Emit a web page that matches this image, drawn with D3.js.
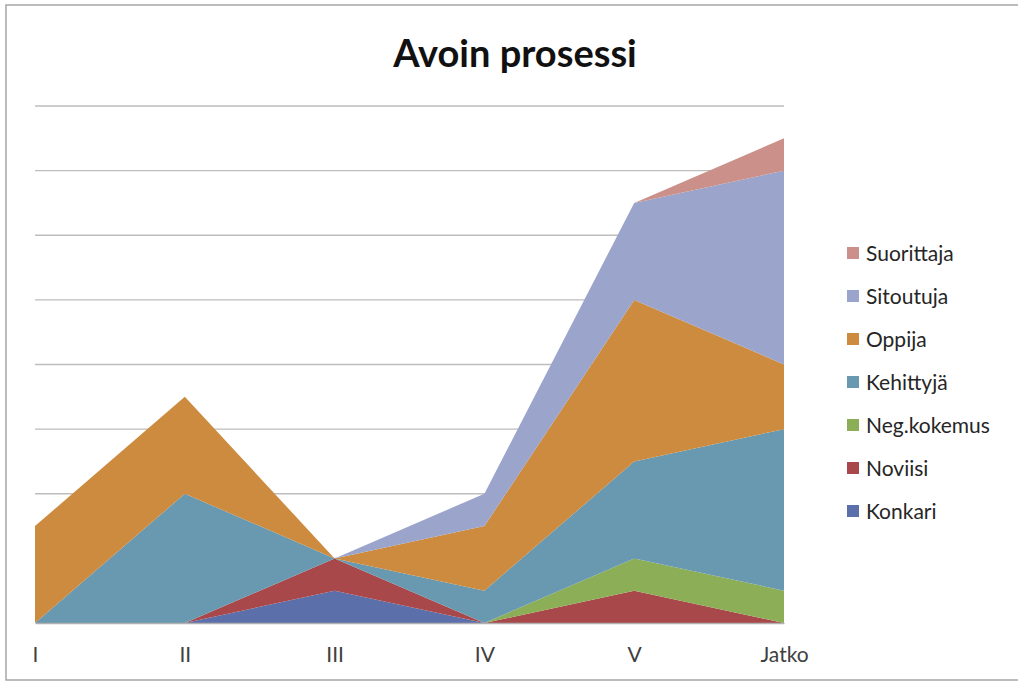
<!DOCTYPE html>
<html>
<head>
<meta charset="utf-8">
<script src="https://cdn.jsdelivr.net/npm/d3@7"></script>
<style>
  html, body { margin: 0; padding: 0; background: #fff; }
  svg { display: block; }
</style>
</head>
<body>
<svg id="chart" width="1018" height="681"></svg>
<script>
// Categories along the x axis
const categories = ["I", "II", "III", "IV", "V", "Jatko"];

// Series values, bottom of the stack first
const konkari     = [0,   0,   0.5, 0,   0,   0];
const noviisi     = [0,   0,   0.5, 0,   0.5, 0];
const negKokemus  = [0,   0,   0,   0,   0.5, 0.5];
const kehittyja   = [0,   2,   0,   0.5, 1.5, 2.5];
const oppija      = [1.5, 1.5, 0,   1,   2.5, 1];
const sitoutuja   = [0,   0,   0,   0.5, 1.5, 3];
const suorittaja  = [0,   0,   0,   0,   0,   0.5];

const seriesNames = ["Konkari", "Noviisi", "Neg.kokemus", "Kehittyjä", "Oppija", "Sitoutuja", "Suorittaja"];
const seriesValues = [konkari, noviisi, negKokemus, kehittyja, oppija, sitoutuja, suorittaja];
const seriesColors = ["#5b6fab", "#a8484a", "#8cae56", "#6899b0", "#cd8b3f", "#9ba4cb", "#cb9089"];

const gridTicks = [0, 1, 2, 3, 4, 5, 6, 7, 8];

const FONT = "Lato, 'Open Sans', sans-serif";

// Table for d3.stack
const table = categories.map((c, i) => {
  const row = { cat: c };
  seriesNames.forEach((n, k) => { row[n] = seriesValues[k][i]; });
  return row;
});

const svg = d3.select("#chart");

// Outer chart frame
svg.append("rect")
  .attr("x", 6).attr("y", 5)
  .attr("width", 1030).attr("height", 675)
  .attr("fill", "#fff")
  .attr("stroke", "#a6a6a6")
  .attr("stroke-width", 1.5);

const x = d3.scalePoint().domain(categories).range([35, 784]).padding(0);
const y = d3.scaleLinear().domain([0, 8]).range([623, 106]);

// Horizontal gridlines
svg.append("g")
  .selectAll("line")
  .data(gridTicks.filter(t => t > 0))
  .join("line")
  .attr("x1", x.range()[0]).attr("x2", x.range()[1])
  .attr("y1", d => y(d)).attr("y2", d => y(d))
  .attr("stroke", "#bdbdbd")
  .attr("stroke-width", 1.3);

// Stacked areas
const stack = d3.stack().keys(seriesNames);
const layers = stack(table);

const area = d3.area()
  .x(d => x(d.data.cat))
  .y0(d => y(d[0]))
  .y1(d => y(d[1]));

svg.append("g")
  .selectAll("path")
  .data(layers)
  .join("path")
  .attr("d", area)
  .attr("fill", (d, i) => seriesColors[i]);

// Category axis
const xAxis = d3.axisBottom(x).tickSize(0).tickPadding(24);
const gx = svg.append("g")
  .attr("transform", `translate(0,${y(0)})`)
  .call(xAxis);
gx.select(".domain").attr("stroke", "#b0b0b0").attr("stroke-width", 1.3);
gx.selectAll("text")
  .attr("font-family", FONT)
  .attr("font-size", 21)
  .attr("fill", "#404040");

// Title
svg.append("text")
  .attr("x", 515).attr("y", 67)
  .attr("text-anchor", "middle")
  .attr("font-family", FONT)
  .attr("font-weight", "bold")
  .attr("font-size", 38)
  .attr("fill", "#111")
  .text("Avoin prosessi");

// Legend, top entry is the top of the stack
const legendOrder = seriesNames.map((n, i) => ({ name: n, color: seriesColors[i] })).reverse();
const legend = svg.append("g")
  .selectAll("g")
  .data(legendOrder)
  .join("g")
  .attr("transform", (d, i) => `translate(847,${253 + i * 43})`);

legend.append("rect")
  .attr("x", 0).attr("y", -6)
  .attr("width", 12).attr("height", 12)
  .attr("fill", d => d.color);

legend.append("text")
  .attr("x", 19).attr("y", 0)
  .attr("dy", "0.36em")
  .attr("font-family", FONT)
  .attr("font-size", 21)
  .attr("fill", "#262626")
  .text(d => d.name);
</script>
</body>
</html>
